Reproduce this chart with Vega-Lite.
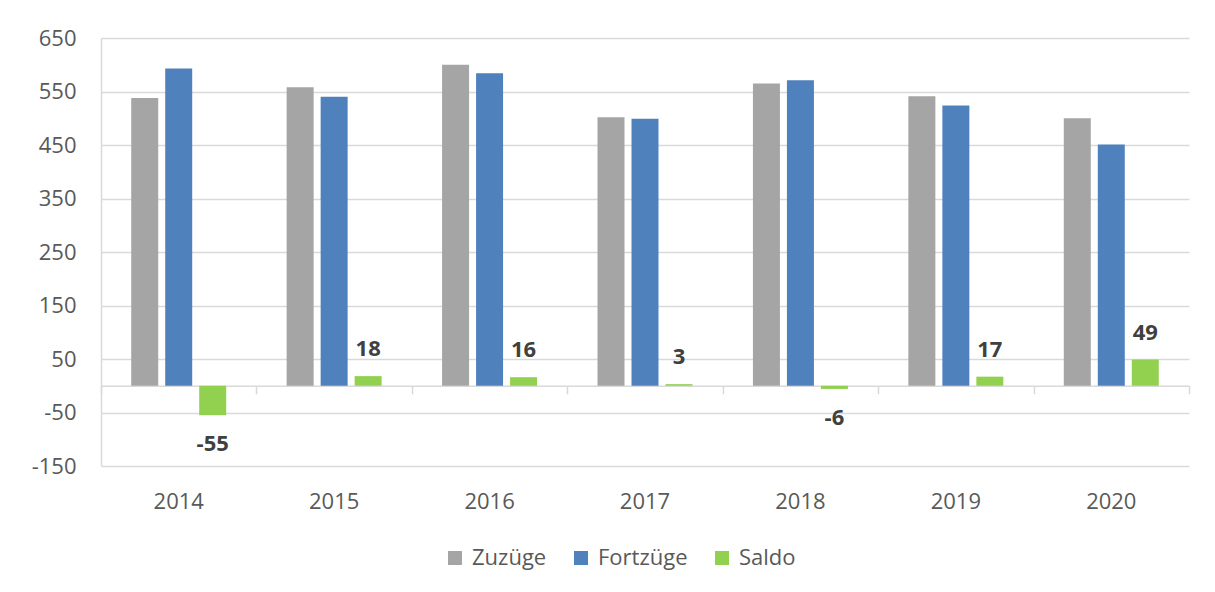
{
  "$schema": "https://vega.github.io/schema/vega-lite/v6.json",
  "width": 1088,
  "height": 428,
  "autosize": {"type": "none"},
  "padding": {"left": 101, "top": 38, "right": 26, "bottom": 126},
  "background": "white",
  "data": {
    "values": [
      {"year": "2014", "series": "Zuzüge", "value": 538},
      {"year": "2014", "series": "Fortzüge", "value": 593},
      {"year": "2014", "series": "Saldo", "value": -55},
      {"year": "2015", "series": "Zuzüge", "value": 558},
      {"year": "2015", "series": "Fortzüge", "value": 540},
      {"year": "2015", "series": "Saldo", "value": 18},
      {"year": "2016", "series": "Zuzüge", "value": 600},
      {"year": "2016", "series": "Fortzüge", "value": 584},
      {"year": "2016", "series": "Saldo", "value": 16},
      {"year": "2017", "series": "Zuzüge", "value": 502},
      {"year": "2017", "series": "Fortzüge", "value": 499},
      {"year": "2017", "series": "Saldo", "value": 3},
      {"year": "2018", "series": "Zuzüge", "value": 565},
      {"year": "2018", "series": "Fortzüge", "value": 571},
      {"year": "2018", "series": "Saldo", "value": -6},
      {"year": "2019", "series": "Zuzüge", "value": 541},
      {"year": "2019", "series": "Fortzüge", "value": 524},
      {"year": "2019", "series": "Saldo", "value": 17},
      {"year": "2020", "series": "Zuzüge", "value": 500},
      {"year": "2020", "series": "Fortzüge", "value": 451},
      {"year": "2020", "series": "Saldo", "value": 49}
    ]
  },
  "resolve": {"axis": {"x": "independent"}},
  "layer": [
    {
      "mark": {"type": "bar"},
      "encoding": {
        "x": {
          "field": "year", "type": "nominal",
          "scale": {"paddingInner": 0, "paddingOuter": 0},
          "axis": {
            "orient": "bottom", "title": null, "domain": false, "ticks": false,
            "labelAngle": 0, "labelFontSize": 22, "labelColor": "#595959",
            "labelPadding": 25, "grid": false
          }
        },
        "xOffset": {
          "field": "series", "type": "nominal",
          "sort": ["Zuzüge", "Fortzüge", "Saldo"],
          "scale": {"paddingInner": 0.206, "paddingOuter": 0.889}
        },
        "y": {
          "field": "value", "type": "quantitative",
          "scale": {"domain": [-150, 650], "nice": false, "zero": false},
          "axis": {
            "title": null, "values": [-150, -50, 50, 150, 250, 350, 450, 550, 650],
            "labelExpr": "'' + datum.value",
            "grid": true, "gridColor": "#d9d9d9", "gridWidth": 1.5,
            "domain": true, "domainColor": "#d9d9d9", "domainWidth": 1.5,
            "ticks": false, "labelPadding": 25, "labelFontSize": 22, "labelColor": "#595959"
          }
        },
        "color": {
          "field": "series", "type": "nominal",
          "sort": ["Zuzüge", "Fortzüge", "Saldo"],
          "scale": {"domain": ["Zuzüge", "Fortzüge", "Saldo"], "range": ["#a5a5a5", "#4f81bd", "#92d050"]},
          "legend": {
            "orient": "none", "legendX": 343, "legendY": 509, "direction": "horizontal",
            "title": null, "symbolType": "square", "symbolSize": 196, "symbolStrokeWidth": 0,
            "labelFontSize": 22, "labelColor": "#595959", "columnPadding": 23, "labelOffset": 6,
            "padding": 0
          }
        }
      }
    },
    {
      "transform": [{"filter": "datum.series === 'Saldo' && datum.value >= 0"}],
      "mark": {"type": "text", "fontSize": 22, "fontWeight": "bold", "color": "#404040", "dy": -27, "baseline": "middle"},
      "encoding": {
        "x": {
          "field": "year", "type": "nominal",
          "axis": {
            "orient": "bottom", "offset": -80.25, "title": null, "labels": false,
            "domain": true, "domainColor": "#d9d9d9", "domainWidth": 1.5,
            "ticks": true, "tickBand": "extent", "tickSize": 8, "tickColor": "#d9d9d9", "tickWidth": 1.5,
            "grid": false
          }
        },
        "xOffset": {"field": "series", "type": "nominal", "sort": ["Zuzüge", "Fortzüge", "Saldo"]},
        "y": {"field": "value", "type": "quantitative"},
        "text": {"field": "value", "type": "nominal"}
      }
    },
    {
      "transform": [{"filter": "datum.series === 'Saldo' && datum.value < 0"}],
      "mark": {"type": "text", "fontSize": 22, "fontWeight": "bold", "color": "#404040", "dy": 29, "baseline": "middle"},
      "encoding": {
        "x": {"field": "year", "type": "nominal", "axis": null},
        "xOffset": {"field": "series", "type": "nominal", "sort": ["Zuzüge", "Fortzüge", "Saldo"]},
        "y": {"field": "value", "type": "quantitative"},
        "text": {"field": "value", "type": "nominal"}
      }
    }
  ],
  "config": {
    "font": "Open Sans",
    "view": {"stroke": null}
  }
}
